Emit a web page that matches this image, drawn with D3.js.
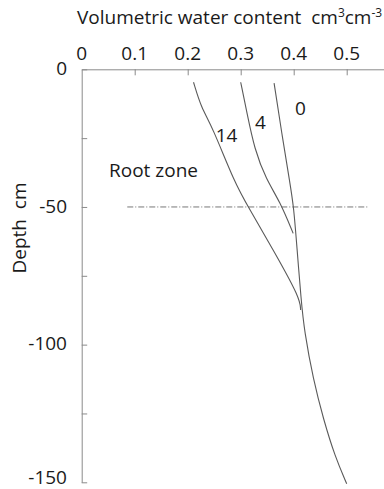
<!DOCTYPE html>
<html><head><meta charset="utf-8">
<script src="https://cdn.jsdelivr.net/npm/d3@7"></script>
<style>body{margin:0;background:#fff}svg{display:block}text{font-family:"Open Sans",sans-serif;fill:#1a1a1a}</style>
</head><body>
<script>
const xTicks = [0, 0.1, 0.2, 0.3, 0.4, 0.5];
const xTickLabels = ["0", "0.1", "0.2", "0.3", "0.4", "0.5"];
const yMajor = [0, -50, -100, -150];
const yMinor = [-25, -75, -125];
const seriesNames = ["0", "4", "14"];
const day0 = [[0.363,-5],[0.377,-22.7],[0.393,-41.4],[0.400,-49.9],[0.406,-64.4],[0.414,-83.8],[0.420,-95],[0.437,-112.8],[0.456,-127],[0.478,-140.7],[0.500,-150.5]];
const day4 = [[0.300,-4.7],[0.312,-16],[0.326,-29],[0.348,-40],[0.374,-48],[0.399,-59.6]];
const day14 = [[0.211,-4.7],[0.226,-14.2],[0.245,-20.2],[0.289,-41.4],[0.314,-49.9],[0.365,-66.8],[0.412,-83.2],[0.413,-87.4]];
const rootDepth = -50;
const rootX = [0.086, 0.539];

const W = 384, H = 489;
const svg = d3.select("body").append("svg").attr("width", W).attr("height", H);
const x = d3.scaleLinear().domain([0, 0.6]).range([81.7, 399.7]);
const y = d3.scaleLinear().domain([0, -150]).range([69.3, 482.3]);
const axisCol = "#8a8a8a";
const fs = 19;

// top axis
const gx = svg.append("g").attr("transform", `translate(0,${y(0)})`)
  .call(d3.axisTop(x).tickValues(xTicks.slice(1)).tickSizeInner(-6).tickSizeOuter(0).tickFormat(""));
gx.select(".domain").attr("stroke", axisCol);
gx.selectAll(".tick line").attr("stroke", axisCol);
svg.append("g").selectAll("text").data(xTicks).join("text")
  .attr("x", d => x(d)).attr("y", 60).attr("text-anchor", "middle").attr("font-size", fs)
  .text((d, i) => xTickLabels[i]);

// left axis
const gy = svg.append("g").attr("transform", `translate(${x(0)},0)`)
  .call(d3.axisLeft(y).tickValues(yMajor.concat(yMinor)).tickSizeInner(-5.5).tickSizeOuter(0).tickFormat(""));
gy.select(".domain").attr("stroke", axisCol);
gy.selectAll(".tick line").attr("stroke", axisCol);
svg.append("g").selectAll("text").data(yMajor).join("text")
  .attr("x", 67).attr("y", d => Math.min(y(d) + 0.3 * fs, H - 5.5)).attr("text-anchor", "end").attr("font-size", fs)
  .text(d => d);

// titles
const t = svg.append("text").attr("x", 77).attr("y", 24).attr("font-size", fs);
t.append("tspan").text("Volumetric water content\u00a0\u00a0cm");
t.append("tspan").attr("font-size", 12).attr("dy", -7).text("3");
t.append("tspan").attr("dy", 7).text("cm");
t.append("tspan").attr("font-size", 12).attr("dy", -7).text("-3");

svg.append("text").attr("transform", "translate(26,228) rotate(-90)").attr("text-anchor", "middle")
  .attr("font-size", fs).text("Depth\u00a0\u00a0cm");

// root zone line
svg.append("line").attr("x1", x(rootX[0])).attr("x2", x(rootX[1])).attr("y1", y(rootDepth)).attr("y2", y(rootDepth))
  .attr("stroke", "#777").attr("stroke-width", 1).attr("stroke-dasharray", "6,2,1,2");
svg.append("text").attr("x", 109).attr("y", 177).attr("font-size", fs).text("Root zone");

// curves
const line = d3.line().x(d => x(d[0])).y(d => y(d[1])).curve(d3.curveBasis);
[day0, day4, day14].forEach(s => {
  svg.append("path").datum(s).attr("d", line).attr("fill", "none").attr("stroke", "#5a5a5a").attr("stroke-width", 1.1);
});
const labelPos = [[300.5, 115], [260.5, 129], [226.5, 142]];
svg.append("g").selectAll("text").data(seriesNames).join("text")
  .attr("x", (d, i) => labelPos[i][0]).attr("y", (d, i) => labelPos[i][1])
  .attr("text-anchor", "middle").attr("font-size", fs).text(d => d);
</script>
</body></html>
